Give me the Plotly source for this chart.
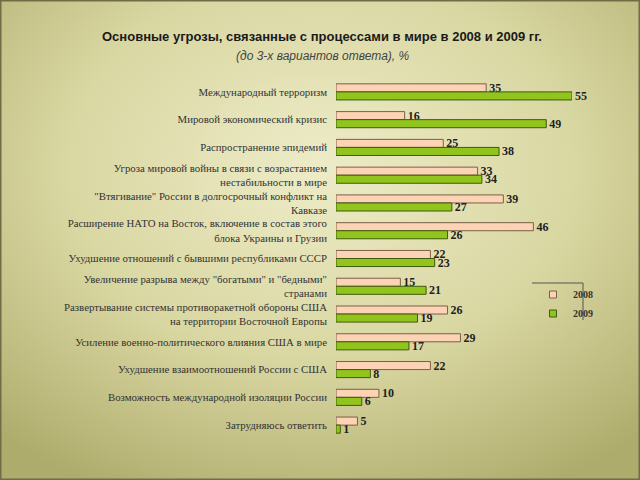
import plotly.graph_objects as go
import base64

categories = [
    "Международный терроризм",
    "Мировой экономический кризис",
    "Распространение эпидемий",
    "Угроза мировой войны в связи с возрастанием<br>нестабильности в мире",
    "\"Втягивание\" России в долгосрочный конфликт на<br>Кавказе",
    "Расширение НАТО на Восток, включение в состав этого<br>блока Украины и Грузии",
    "Ухудшение отношений с бывшими республиками СССР",
    "Увеличение разрыва между \"богатыми\" и \"бедными\"<br>странами",
    "Развертывание системы противоракетной обороны США<br>на территории Восточной Европы",
    "Усиление военно-политического влияния США в мире",
    "Ухудшение взаимоотношений России с США",
    "Возможность международной изоляции России",
    "Затрудняюсь ответить",
]
values_2008 = [35, 16, 25, 33, 39, 46, 22, 15, 26, 29, 22, 10, 5]
values_2009 = [55, 49, 38, 34, 27, 26, 23, 21, 19, 17, 8, 6, 1]
series_names = ["2008", "2009"]
colors = ["#fcd3b4", "#92c41e"]
edges = ["#7a6048", "#3e5a0c"]

svg = """<svg xmlns='http://www.w3.org/2000/svg' width='640' height='480' preserveAspectRatio='none'>
<defs><radialGradient id='g' cx='50%' cy='35%' r='75%'>
<stop offset='0%' stop-color='#eeecc8'/>
<stop offset='55%' stop-color='#d8d6a0'/>
<stop offset='100%' stop-color='#aeac6c'/>
</radialGradient></defs>
<rect width='640' height='480' fill='url(#g)'/>
<rect x='0.5' y='0.5' width='639' height='479' fill='none' stroke='#6f6d45' stroke-width='2'/>
</svg>"""
bg_uri = "data:image/svg+xml;base64," + base64.b64encode(svg.encode()).decode()

PL, PR, PT, PB = 336, 572, 78, 439
PW, PH = PR - PL, PB - PT

def px(x):
    return (x - PL) / PW

def py(y):
    return (PB - y) / PH

label_font = dict(family="Liberation Serif, Times New Roman, serif", size=12, color="#1e1e1e")

fig = go.Figure()
for name, vals, c, e in zip(series_names, [values_2008, values_2009], colors, edges):
    fig.add_trace(go.Bar(
        y=categories, x=vals, orientation="h", name=name, showlegend=False,
        marker=dict(color=c, line=dict(color=e, width=1)),
        text=[f"<b>{v}</b>" for v in vals], textposition="outside",
        textfont=label_font, cliponaxis=False, constraintext="none",
    ))
for name, c, e in zip(series_names, colors, edges):
    fig.add_trace(go.Scatter(
        x=[None], y=[None], mode="markers", name=f"<b>{name}</b>",
        marker=dict(symbol="square", size=7, color=c, line=dict(color=e, width=1)),
    ))

fig.update_layout(
    width=640, height=480,
    margin=dict(l=PL, r=640 - PR, t=PT, b=480 - PB),
    barmode="group", bargap=0.42, bargroupgap=0,
    paper_bgcolor="#d6d49e", plot_bgcolor="rgba(0,0,0,0)",
    images=[dict(source=bg_uri, xref="paper", yref="paper", x=px(0), y=py(0),
                 sizex=640 / PW, sizey=480 / PH, xanchor="left", yanchor="top",
                 sizing="stretch", layer="below")],
    xaxis=dict(range=[0, 55], visible=False),
    yaxis=dict(autorange="reversed", showgrid=False, showline=False,
               ticks="", ticklabelstandoff=8,
               tickfont=dict(family="Liberation Serif, Times New Roman, serif", size=10.8, color="#333333")),
    showlegend=True,
    legend=dict(x=px(533), y=py(280), xanchor="left", yanchor="top",
                bgcolor="rgba(0,0,0,0)", borderwidth=0,
                font=dict(family="Liberation Serif, Times New Roman, serif", size=10, color="#333333"),
                itemwidth=30, tracegroupgap=0),
    annotations=[
        dict(text="<b>Основные угрозы, связанные с процессами в мире в 2008 и 2009 гг.</b>",
             xref="paper", yref="paper", x=px(322), y=py(37),
             xanchor="center", yanchor="middle", showarrow=False,
             font=dict(family="Liberation Sans, Arial, sans-serif", size=13, color="#1a1a1a")),
        dict(text="<i>(до 3-х вариантов ответа), %</i>",
             xref="paper", yref="paper", x=px(322), y=py(56),
             xanchor="center", yanchor="middle", showarrow=False,
             font=dict(family="Liberation Sans, Arial, sans-serif", size=12, color="#444444")),
    ],
    shapes=[
        dict(type="line", xref="paper", yref="paper",
             x0=px(532), x1=px(583), y0=py(283), y1=py(283),
             line=dict(color="#555555", width=1)),
        dict(type="line", xref="paper", yref="paper",
             x0=px(583), x1=px(583), y0=py(283), y1=py(320),
             line=dict(color="#555555", width=1)),
    ],
)

fig.write_html("out.html")
